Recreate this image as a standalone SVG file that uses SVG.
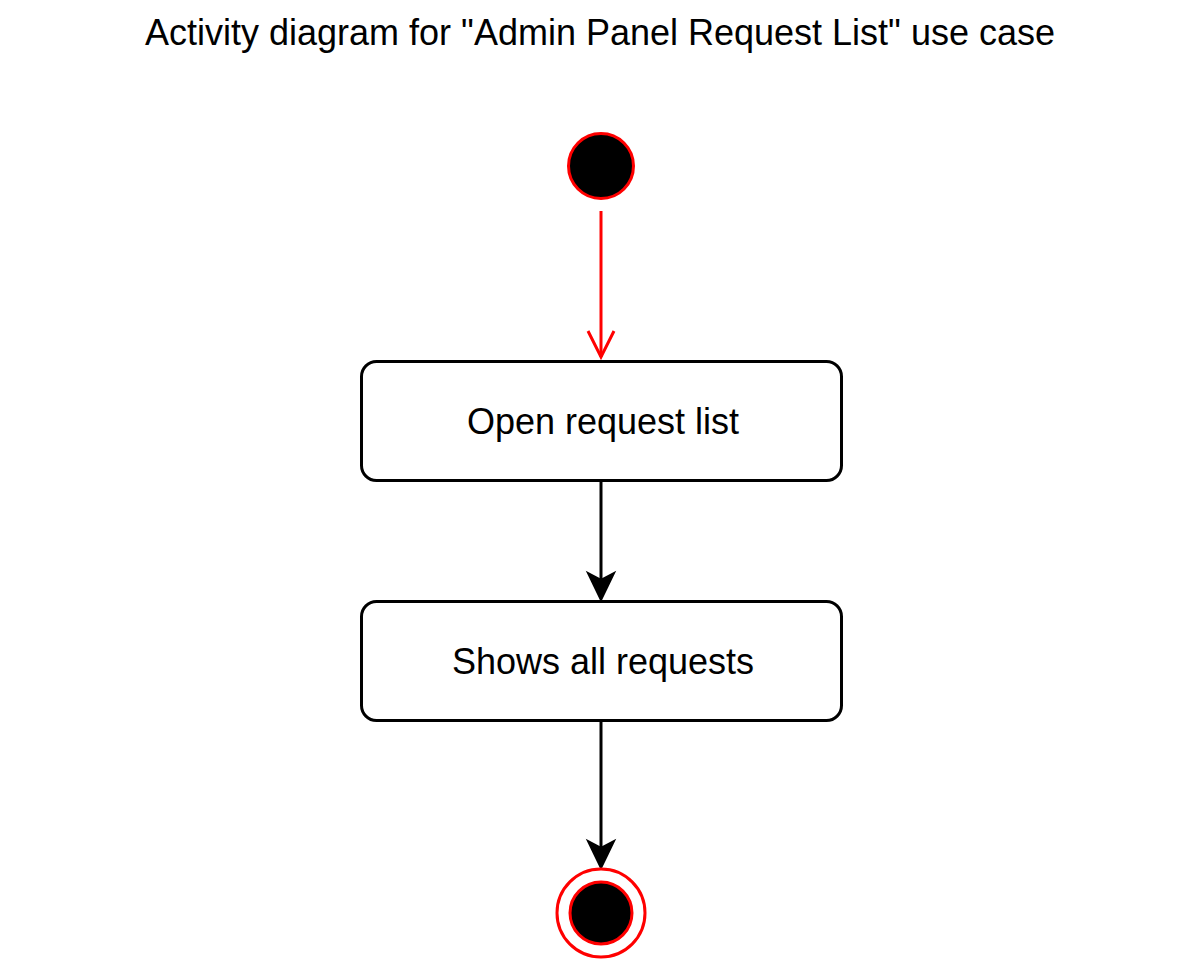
<svg xmlns="http://www.w3.org/2000/svg" width="1203" height="960" viewBox="0 0 1203 960">
<style>
  .lbl { font-family: "Liberation Sans", Arial, sans-serif; fill: #000; text-anchor: middle; font-size: 36px; }
  .box { fill: #fff; stroke: #000; stroke-width: 3; }
  .edge { stroke: #000; stroke-width: 3; fill: none; }
  .red { stroke: #ff0000; stroke-width: 3; fill: none; }
</style>
<rect width="1203" height="960" fill="#fff"/>
<g id="title">
  <text class="lbl" x="600" y="45">Activity diagram for "Admin Panel Request List" use case</text>
</g>
<g id="connectors">
  <line class="red" x1="601" y1="211" x2="601" y2="357"/>
  <polyline class="red" points="588,331 601,357 614,331"/>
  <line class="edge" x1="601" y1="481" x2="601" y2="585"/>
  <polygon points="601,600 588,573 601,580 614,573" fill="#000" stroke="#000" stroke-width="2"/>
  <line class="edge" x1="601" y1="721" x2="601" y2="853"/>
  <polygon points="601,868 588,841 601,848 614,841" fill="#000" stroke="#000" stroke-width="2"/>
</g>
<g id="start">
  <circle cx="601" cy="166" r="32.5" fill="#000" stroke="#ff0000" stroke-width="3"/>
</g>
<g id="open-request-list">
  <rect class="box" x="361.5" y="361.5" width="480" height="119" rx="15" ry="15"/>
  <text class="lbl" x="603" y="434">Open request list</text>
</g>
<g id="shows-all-requests">
  <rect class="box" x="361.5" y="601.5" width="480" height="119" rx="15" ry="15"/>
  <text class="lbl" x="603" y="674">Shows all requests</text>
</g>
<g id="end">
  <circle cx="601" cy="913" r="44" fill="#fff" stroke="#ff0000" stroke-width="3"/>
  <circle cx="601" cy="913" r="31" fill="#000" stroke="#ff0000" stroke-width="3"/>
</g>
</svg>
